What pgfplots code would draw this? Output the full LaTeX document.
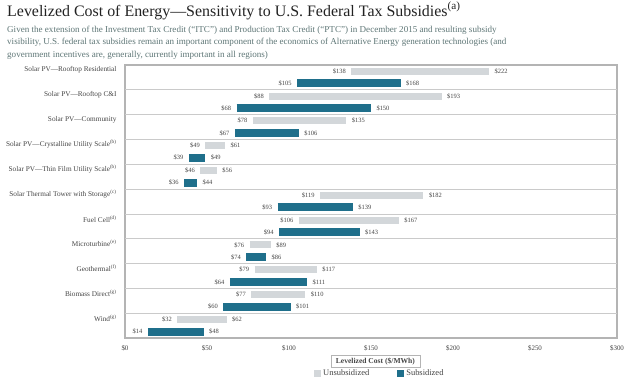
\documentclass[border=0pt]{standalone}
\usepackage{pgfplots}
\pgfplotsset{compat=1.18}
\usepackage{pgfplotstable}
\usepackage{fontspec}
\setmainfont{Liberation Serif}
\definecolor{subcol}{HTML}{1F6F8B}
\definecolor{unsubcol}{HTML}{D3D7DA}
\definecolor{framecol}{HTML}{B4B4B4}
\definecolor{sepcol}{HTML}{CACACA}
\definecolor{subtitlecol}{HTML}{5E7676}
\definecolor{titlecol}{HTML}{222222}
\definecolor{labcol}{HTML}{444444}

\pgfplotstableread{
y lo hi
0.25 138 222
1.25 88 193
2.25 78 135
3.25 49 61
4.25 46 56
5.25 119 182
6.25 106 167
7.25 76 89
8.25 79 117
9.25 77 110
10.25 32 62
}\unsub
\pgfplotstableread{
y lo hi
0.74 105 168
1.74 68 150
2.74 67 106
3.74 39 49
4.74 36 44
5.74 93 139
6.74 94 143
7.74 74 86
8.74 64 111
9.74 60 101
10.74 14 48
}\sub

\begin{document}
\begin{tikzpicture}
\path[use as bounding box] (0,0) rectangle (640bp,-380bp);
\node[anchor=base west, inner sep=0, font=\fontsize{16}{18}\selectfont, text=titlecol] at (7bp,-16bp)
 {Levelized Cost of Energy—Sensitivity to U.S. Federal Tax Subsidies\textsuperscript{(a)}};
\node[anchor=base west, inner sep=0, align=left, font=\fontsize{9.1}{12.5}\selectfont, text=subtitlecol] at (7bp,-57bp)
 {Given the extension of the Investment Tax Credit (“ITC”) and Production Tax Credit (“PTC”) in December 2015 and resulting subsidy\\
 visibility, U.S. federal tax subsidies remain an important component of the economics of Alternative Energy generation technologies (and\\
 government incentives are, generally, currently important in all regions)};
\begin{axis}[
  at={(125bp,-65bp)}, anchor=north west,
  scale only axis, width=492bp, height=273bp,
  xmin=0, xmax=300, ymin=0, ymax=11, y dir=reverse,
  clip=false,
  axis line style={draw=framecol, line width=1.6pt},
  major tick length=0pt,
  xtick={0,50,100,150,200,250,300},
  xticklabels={\$0,\$50,\$100,\$150,\$200,\$250,\$300},
  xticklabel style={font=\fontsize{7}{8}\selectfont, text=labcol, yshift=-4bp},
  ytick={0.2,1.2,2.2,3.2,4.2,5.2,6.2,7.2,8.2,9.2,10.2},
  yticklabels={Solar PV—Rooftop Residential, Solar PV—Rooftop C\&I, Solar PV—Community,
    Solar PV—Crystalline Utility Scale\textsuperscript{(b)}, Solar PV—Thin Film Utility Scale\textsuperscript{(b)},
    Solar Thermal Tower with Storage\textsuperscript{(c)}, Fuel Cell\textsuperscript{(d)},
    Microturbine\textsuperscript{(e)}, Geothermal\textsuperscript{(f)}, Biomass Direct\textsuperscript{(g)},
    Wind\textsuperscript{(g)}},
  yticklabel style={font=\fontsize{7.3}{8}\selectfont, text=labcol, xshift=-5bp},
  extra y ticks={1,2,3,4,5,6,7,8,9,10},
  extra y tick labels={},
  extra y tick style={grid=major, major grid style={draw=sepcol, line width=0.8pt}},
  /pgf/number format/assume math mode=true,
  xlabel={Levelized Cost (\$/MWh)},
  xlabel style={at={(axis description cs:0.509,-0.086)}, anchor=center, draw=framecol, line width=0.6pt,
    inner xsep=5bp, inner ysep=2.5bp, font=\bfseries\fontsize{7.6}{8}\selectfont, text=labcol},
  legend style={at={(axis description cs:0.518,-0.13)}, anchor=center, draw=none, fill=none,
    legend columns=2, font=\fontsize{8.5}{9}\selectfont, text=labcol,
    /tikz/every even column/.append style={column sep=26bp}},
  every node near coord/.append style={font=\fontsize{6.5}{7}\selectfont, text=labcol},
]
\addplot[draw=none, mark=none, point meta=x,
  nodes near coords={\$\pgfmathprintnumber{\pgfplotspointmeta}},
  nodes near coords align={anchor=east},
  every node near coord/.append style={xshift=-2bp},
  legend image code/.code={\fill[unsubcol] (0bp,-3.5bp) rectangle (7bp,3.5bp);},
  error bars/.cd, x dir=plus, x explicit, error mark=none,
  error bar style={line width=7bp, draw=unsubcol}]
  table[x=lo, y=y, x error expr=\thisrow{hi}-\thisrow{lo}] {\unsub};
\addlegendentry{Unsubsidized}
\addplot[forget plot, draw=none, mark=none, point meta=x,
  nodes near coords={\$\pgfmathprintnumber{\pgfplotspointmeta}},
  nodes near coords align={anchor=west},
  every node near coord/.append style={xshift=2bp}]
  table[x=hi, y=y] {\unsub};
\addplot[draw=none, mark=none, point meta=x,
  nodes near coords={\$\pgfmathprintnumber{\pgfplotspointmeta}},
  nodes near coords align={anchor=east},
  every node near coord/.append style={xshift=-2bp},
  legend image code/.code={\fill[subcol] (0bp,-3.5bp) rectangle (7bp,3.5bp);},
  error bars/.cd, x dir=plus, x explicit, error mark=none,
  error bar style={line width=8bp, draw=subcol}]
  table[x=lo, y=y, x error expr=\thisrow{hi}-\thisrow{lo}] {\sub};
\addlegendentry{Subsidized}
\addplot[forget plot, draw=none, mark=none, point meta=x,
  nodes near coords={\$\pgfmathprintnumber{\pgfplotspointmeta}},
  nodes near coords align={anchor=west},
  every node near coord/.append style={xshift=2bp}]
  table[x=hi, y=y] {\sub};
\end{axis}
\end{tikzpicture}
\end{document}
